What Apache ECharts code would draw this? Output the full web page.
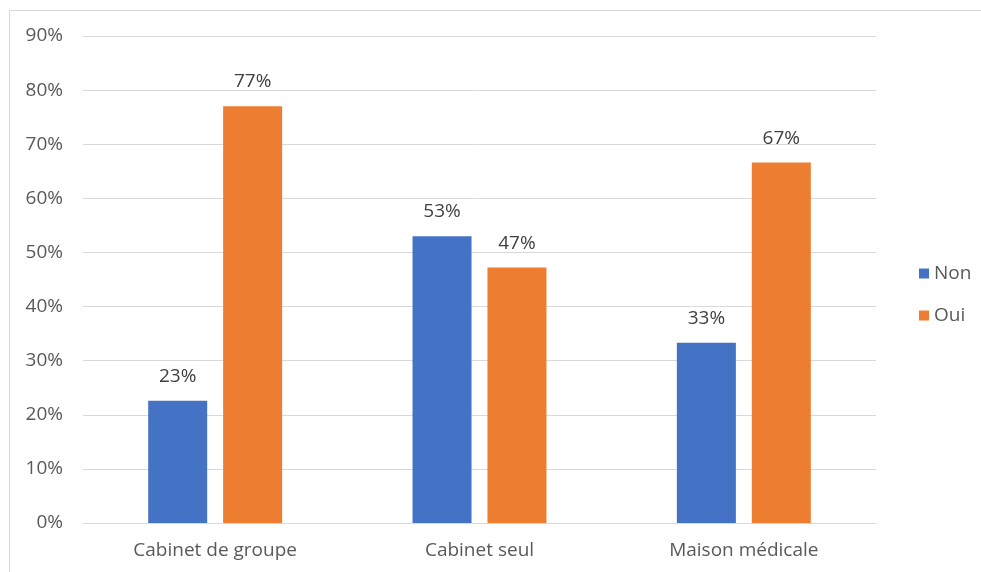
<!DOCTYPE html>
<html><head><meta charset="utf-8">
<script src="https://cdn.jsdelivr.net/npm/echarts@6/dist/echarts.min.js"></script>
<style>html,body{margin:0;padding:0;background:#fff}#frame{position:absolute;left:9px;top:10px;width:1000px;height:600px;border:1px solid #d9d9d9;box-sizing:border-box}#c{position:absolute;left:0;top:0;width:981px;height:572px}</style>
</head><body><div id="frame"></div><div id="c"></div>
<script>
const categories = ['Cabinet de groupe', 'Cabinet seul', 'Maison médicale'];
const nonValues = [22.6, 53.0, 33.3];
const ouiValues = [77.0, 47.2, 66.6];
const seriesNames = ['Non', 'Oui'];
const chart = echarts.init(document.getElementById('c'));
const font = "'Open Sans', 'Noto Sans', sans-serif";
const lbl = {show: true, position: 'top', distance: 15, color: '#404040', fontSize: 19, fontFamily: font,
  formatter: p => Math.round(p.value) + '%'};
chart.setOption({
  animation: false,
  textStyle: {fontFamily: font},
  grid: {left: 83, right: 105, top: 36, bottom: 49, containLabel: false},
  legend: {orient: 'vertical', left: 914, top: 259, itemWidth: 10, itemHeight: 10, itemGap: 23,
    icon: 'rect', textStyle: {color: '#595959', fontSize: 19, fontFamily: font},
    data: seriesNames},
  xAxis: {type: 'category', data: categories,
    axisLine: {lineStyle: {color: '#d9d9d9'}}, axisTick: {show: false},
    axisLabel: {color: '#595959', fontSize: 19, margin: 18, fontFamily: font}},
  yAxis: {type: 'value', min: 0, max: 90, interval: 10,
    axisLabel: {formatter: '{value}%', color: '#595959', fontSize: 19, margin: 20, fontFamily: font},
    splitLine: {lineStyle: {color: '#d9d9d9'}}, axisLine: {show: false}, axisTick: {show: false}},
  series: [
    {name: seriesNames[0], type: 'bar', data: nonValues, barWidth: 59, barGap: '27%',
     itemStyle: {color: '#4472C4'}, label: lbl},
    {name: seriesNames[1], type: 'bar', data: ouiValues, barWidth: 59,
     itemStyle: {color: '#ED7D31'}, label: lbl}
  ]
});
</script></body></html>
